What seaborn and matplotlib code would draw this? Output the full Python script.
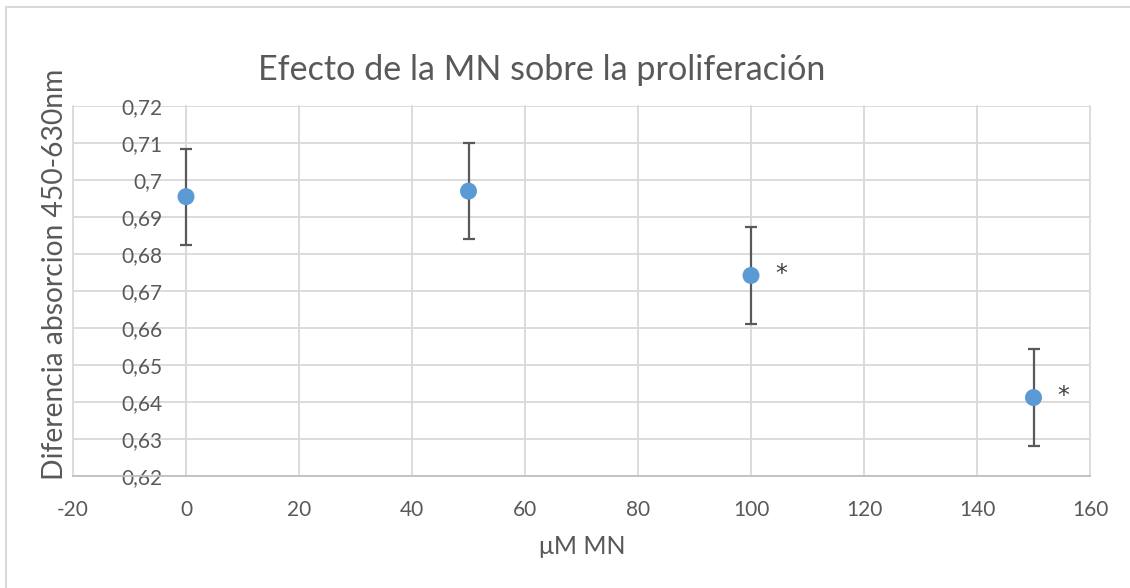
import matplotlib
matplotlib.use("Agg")
import matplotlib.pyplot as plt
import matplotlib.ticker as mticker
from matplotlib.patches import Rectangle
import seaborn as sns
import pandas as pd
import numpy as np

# ---- data ----
concentracion = [0, 50, 100, 150]
absorcion = [0.6955, 0.6970, 0.6742, 0.6412]
error = [0.013, 0.013, 0.013, 0.013]
significativo = [False, False, True, True]
x_ticks = [-20, 0, 20, 40, 60, 80, 100, 120, 140, 160]
y_ticks = [0.62, 0.63, 0.64, 0.65, 0.66, 0.67, 0.68, 0.69, 0.70, 0.71, 0.72]

titulo = "Efecto de la MN sobre la proliferación"
x_label = "μM MN"
y_label = "Diferencia absorcion 450-630nm"

df = pd.DataFrame({"conc": concentracion, "abs": absorcion, "err": error})

sns.set_theme(style="white")
plt.rcParams["font.family"] = ["Lato", "DejaVu Sans"]

TXT = "#595959"
GRID = "#D9D9D9"

fig = plt.figure(figsize=(11.30, 5.88), dpi=100)
ax = fig.add_axes([73 / 1130, 1 - 476 / 588, (1090 - 73) / 1130, (476 - 106) / 588])

ax.errorbar(df["conc"], df["abs"], yerr=df["err"], fmt="none",
            ecolor="#595959", elinewidth=1.6, capsize=4.3, capthick=1.6, zorder=3)
sns.scatterplot(data=df, x="conc", y="abs", ax=ax, s=150, color="#5B9BD5",
                edgecolor="none", zorder=4)

for xv, yv, sig in zip(concentracion, absorcion, significativo):
    if sig:
        ax.text(xv + 5.3, yv + 0.0005, "*", fontsize=17, color="#404040",
                family="DejaVu Sans", ha="center", va="center", zorder=5)

ax.set_xlim(-20, 160)
ax.set_ylim(0.62, 0.72)
ax.set_xticks(x_ticks)
ax.set_yticks(y_ticks)
ax.xaxis.set_major_formatter(mticker.FuncFormatter(lambda v, p: f"{v:g}"))
ax.yaxis.set_major_formatter(mticker.FuncFormatter(lambda v, p: f"{round(v, 2):g}".replace(".", ",")))

ax.grid(True, color=GRID, linewidth=1.3)
for ln in ax.get_xgridlines() + ax.get_ygridlines():
    ln.set_clip_on(False)

for s in ["top", "right"]:
    ax.spines[s].set_visible(False)
ax.spines["left"].set_position(("data", 0))
ax.spines["left"].set_color(GRID)
ax.spines["left"].set_linewidth(1.3)
ax.spines["bottom"].set_color("#BFBFBF")
ax.spines["bottom"].set_linewidth(1.3)

ax.tick_params(axis="both", length=0, labelsize=15, labelcolor=TXT)
ax.tick_params(axis="y", pad=17)
ax.tick_params(axis="x", pad=17)
ax.set_xlabel("")
ax.set_ylabel("")

fig.text(542 / 1130, 1 - 70 / 588, titulo, fontsize=24.6, color=TXT, ha="center", va="center")
fig.text(582 / 1130, 1 - 547 / 588, x_label, fontsize=18, color=TXT, ha="center", va="center")
fig.text(55 / 1130, 1 - 274 / 588, y_label, fontsize=20.3, color=TXT, ha="center", va="center",
         rotation=90)

fig.patches.append(Rectangle((6 / 1130, -0.1), 1.2, 1 - 7 / 588 + 0.1, transform=fig.transFigure,
                             fill=False, edgecolor=GRID, linewidth=1.5))

fig.savefig("out.png", dpi=100)
